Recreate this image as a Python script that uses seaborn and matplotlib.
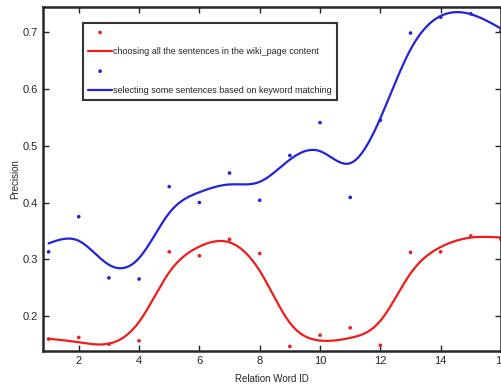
import numpy as np
import pandas as pd
import matplotlib
matplotlib.use('Agg')
import matplotlib.pyplot as plt
import seaborn as sns

# relation word ids and precision values
word_id = list(range(1, 17))
prec_all = [0.159, 0.162, 0.150, 0.156, 0.313, 0.306, 0.335, 0.310,
            0.146, 0.166, 0.179, 0.148, 0.312, 0.313, 0.341, 0.335]
prec_keyword = [0.313, 0.375, 0.267, 0.265, 0.428, 0.400, 0.452, 0.404,
                0.483, 0.541, 0.409, 0.545, 0.699, 0.727, 0.733, 0.702]

label_all = 'choosing all the sentences in the wiki_page content'
label_kw = 'selecting some sentences based on keyword matching'


def smooth_fit(x, y, p=1 / (1 + 1 / 6.0), step=0.05):
    # cubic smoothing spline approximated on a fine grid (like matlab's default)
    x = np.asarray(x, float)
    y = np.asarray(y, float)
    grid = np.arange(x.min(), x.max() + step / 2, step)
    n = len(grid)
    idx = np.rint((x - x.min()) / step).astype(int)
    W = np.zeros((n, n))
    b = np.zeros(n)
    W[idx, idx] = 1.0
    b[idx] = y
    D = np.diff(np.eye(n), 2, axis=0) / step ** 2
    lam = (1 - p) / p
    f = np.linalg.solve(W + lam * step * D.T @ D, b)
    return grid, f


gx, f_all = smooth_fit(word_id, prec_all)
_, f_kw = smooth_fit(word_id, prec_keyword)

pts = pd.DataFrame({'id': word_id, 'all': prec_all, 'kw': prec_keyword})
fit = pd.DataFrame({'id': gx, 'all': f_all, 'kw': f_kw})

sns.set_style('ticks')
plt.rcParams['font.family'] = ['Liberation Sans', 'DejaVu Sans']

fig = plt.figure(figsize=(5.02, 3.87), dpi=100)
ax = fig.add_axes([0.086, 0.093, 0.912, 0.889])

red = '#ee1c1c'
blue = '#2323d8'
sns.scatterplot(data=pts, x='id', y='all', ax=ax, color=red, s=7,
                edgecolor='none', label=' ')
sns.lineplot(data=fit, x='id', y='all', ax=ax, color=red, lw=1.6,
             label=label_all)
sns.scatterplot(data=pts, x='id', y='kw', ax=ax, color=blue, s=7,
                edgecolor='none', label='  ')
sns.lineplot(data=fit, x='id', y='kw', ax=ax, color=blue, lw=1.6,
             label=label_kw)

ax.set_xlim(0.82, 16)
ax.set_ylim(0.138, 0.745)
ax.set_xticks(range(2, 17, 2))
ax.set_yticks([0.2, 0.3, 0.4, 0.5, 0.6, 0.7])
ax.set_yticklabels(['0.2', '0.3', '0.4', '0.5', '0.6', '0.7'])
ax.tick_params(direction='in', length=4, width=1, labelsize=8,
               top=True, right=True)
for s in ax.spines.values():
    s.set_visible(True)
    s.set_linewidth(1.8)
ax.set_xlabel('Relation Word ID', fontsize=7, labelpad=6)
ax.set_ylabel('Precision', fontsize=7, labelpad=2)

leg = ax.legend(loc='upper left', bbox_to_anchor=(0.078, 0.967),
                prop={'size': 6.5},
                frameon=True, fancybox=False, handlelength=2.6,
                handletextpad=0.15, borderpad=0.55, labelspacing=1.15)
leg.get_frame().set_edgecolor('black')
leg.get_frame().set_linewidth(1.5)

fig.savefig('out.png', dpi=100)
